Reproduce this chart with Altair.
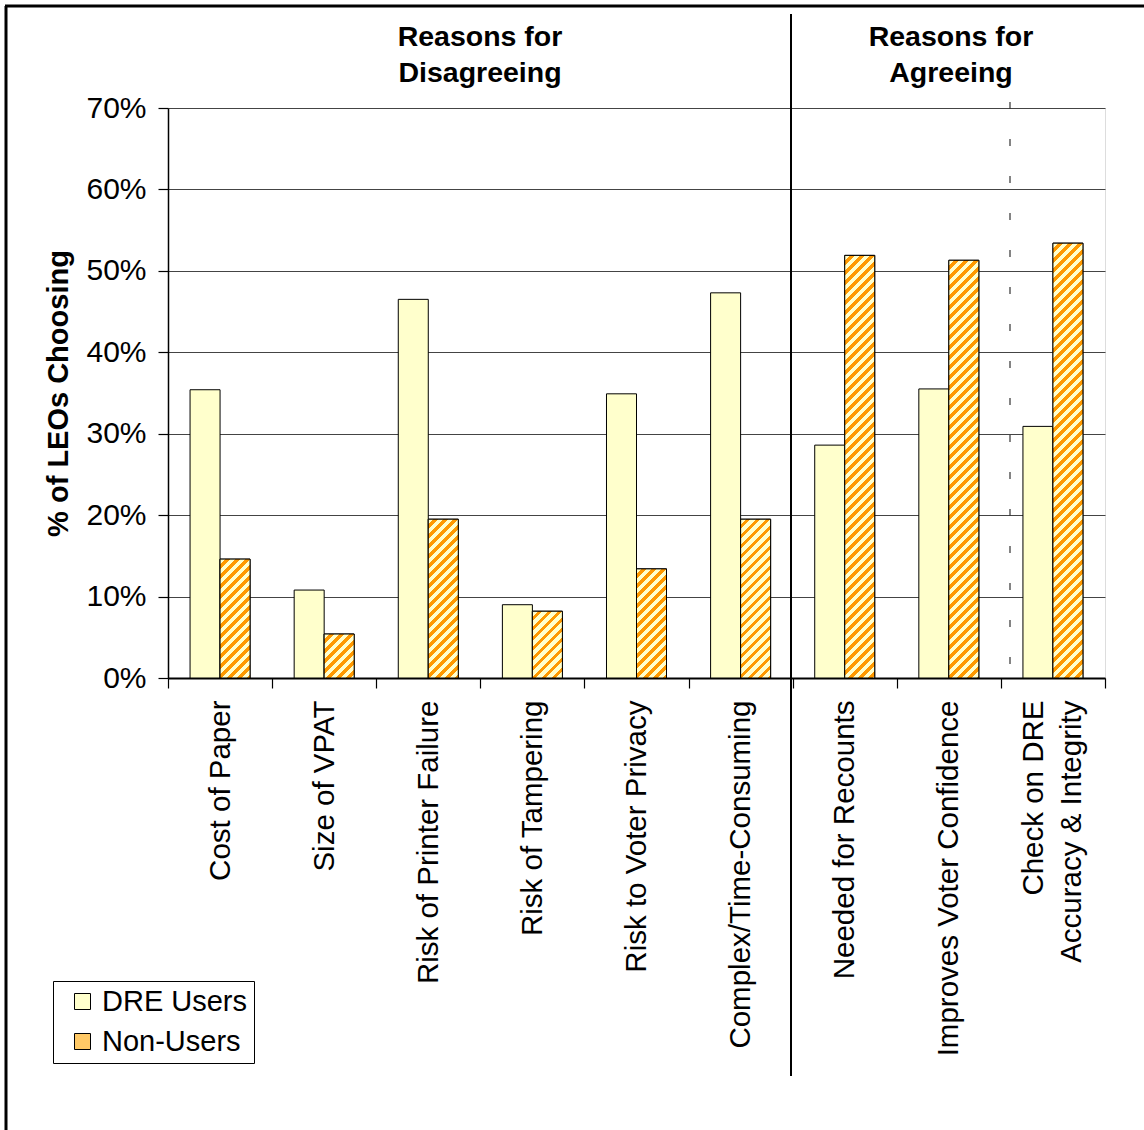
import altair as alt
import pandas as pd

# ---------------- data ----------------
categories = [
    "Cost of Paper", "Size of VPAT", "Risk of Printer Failure", "Risk of Tampering",
    "Risk to Voter Privacy", "Complex/Time-Consuming", "Needed for Recounts",
    "Improves Voter Confidence", "Check on DRE Accuracy & Integrity",
]
series = ["DRE Users", "Non-Users"]
dre_users = [35.4, 10.8, 46.5, 9.0, 34.9, 47.3, 28.6, 35.5, 30.9]
non_users = [14.6, 5.4, 19.5, 8.2, 13.4, 19.5, 51.9, 51.3, 53.4]
y_ticks = [0, 10, 20, 30, 40, 50, 60, 70]
section_titles = [["Reasons for", "Disagreeing"], ["Reasons for", "Agreeing"]]

df = pd.DataFrame({
    "category": categories * 2,
    "series": [series[0]] * len(categories) + [series[1]] * len(categories),
    "value": dre_users + non_users,
})

# ---------------- layout / style ----------------
W, H = 937, 570
PAD = {"left": 168, "top": 108, "right": 39, "bottom": 452}
YMAX = 70
FONT = "Liberation Sans"
YELLOW = "#FFFFCC"
ORANGE = "#FF9900"
BAR_W = W / len(categories) / 3.47  # bar width produced by the xOffset padding


def stripes(h, w=BAR_W, period=10.0, frac=0.55):
    total = w + h
    k = total / (w * w + h * h)
    stops = []
    i = 0
    while i * period < total:
        a = i * period / total
        b = min((i * period + period * frac) / total, 1.0)
        c = min((i + 1) * period / total, 1.0)
        stops += [(a, YELLOW), (b, YELLOW), (b, ORANGE), (c, ORANGE)]
        i += 1
    return alt.LinearGradient(
        gradient="linear",
        stops=[alt.GradientStop(offset=o, color=col) for o, col in stops],
        x1=0, y1=0, x2=k * w, y2=k * h,
    )


two_line = categories[-1]
label_expr = (f"datum.label == '{two_line}' ? "
              "['Check on DRE', 'Accuracy & Integrity'] : datum.label")

x_enc = alt.X(
    "category:N", sort=categories, title=None,
    scale=alt.Scale(domain=categories, paddingInner=0, paddingOuter=0),
    axis=alt.Axis(
        labelAngle=-90, labelFontSize=29.5, labelFont=FONT, labelColor="black",
        labelPadding=12, labelLimit=800, labelLineHeight=38, labelExpr=label_expr,
        labelOffset={"condition": {"test": f"datum.value == '{two_line}'", "value": -19},
                     "value": 0},
        tickBand="extent", tickSize=10, tickColor="black", tickWidth=1.2,
        domainColor="black", domainWidth=2, grid=False,
    ),
)
xo_enc = alt.XOffset(
    "series:N", scale=alt.Scale(domain=series, paddingInner=0, paddingOuter=0.735)
)
y_enc = alt.Y(
    "value:Q",
    scale=alt.Scale(domain=[0, YMAX], nice=False, zero=True),
    axis=alt.Axis(
        values=y_ticks, labelExpr="datum.value + '%'", labelFontSize=30,
        labelFont=FONT, labelColor="black", labelPadding=12,
        tickSize=10, tickColor="black", tickWidth=1.2,
        domainColor="black", domainWidth=1.5,
        grid=True, gridColor="#444444", gridWidth=1.2,
        title="% of LEOs Choosing", titleFont=FONT, titleFontSize=29,
        titleFontWeight="bold", titleColor="black", titleX=-110, titleY=H / 2,
        titleBaseline="middle", titleAngle=270,
    ),
)

base_bars = alt.Chart(df).mark_bar(stroke="black", strokeWidth=1).encode(
    x=x_enc, xOffset=xo_enc, y=y_enc,
    color=alt.Color(
        "series:N", title=None,
        scale=alt.Scale(domain=series, range=[YELLOW, "#FFC966"]),
        legend=alt.Legend(
            orient="none", legendX=-115, legendY=873,
            strokeColor="black", fillColor="white", padding=6,
            symbolType="square", symbolSize=256, symbolStrokeColor="black",
            symbolStrokeWidth=1, symbolOffset=9,
            labelFontSize=29, labelFont=FONT, labelColor="black",
            labelOffset=5, rowPadding=10,
        ),
    ),
)

stripe_layers = []
for cat, val in zip(categories, non_users):
    h = val / YMAX * H
    stripe_layers.append(
        alt.Chart(df)
        .transform_filter((alt.datum.series == series[1]) & (alt.datum.category == cat))
        .mark_bar(fill=stripes(h), stroke="black", strokeWidth=1)
        .encode(x=x_enc, xOffset=xo_enc, y=y_enc)
    )

one = pd.DataFrame({"a": [0]})

separator = alt.Chart(one).mark_rule(color="black", strokeWidth=2).encode(
    x=alt.value(623), y=alt.value(-94), y2=alt.value(968)
)
dashed = alt.Chart(one).mark_rule(color="#333333", strokeWidth=1.2, strokeDash=[7, 30]).encode(
    x=alt.value(842), y=alt.value(-6), y2=alt.value(565)
)
border_left = alt.Chart(one).mark_rule(color="black", strokeWidth=3).encode(
    x=alt.value(-162), y=alt.value(-102), y2=alt.value(1030)
)
border_top = alt.Chart(one).mark_rule(color="black", strokeWidth=3).encode(
    y=alt.value(-102), x=alt.value(-163), x2=alt.value(990)
)

title_left = alt.Chart(one).mark_text(
    text=section_titles[0], font=FONT, fontSize=28.5, fontWeight="bold", color="black",
    align="center", baseline="alphabetic", lineHeight=36,
).encode(x=alt.value(312), y=alt.value(-62))
title_right = alt.Chart(one).mark_text(
    text=section_titles[1], font=FONT, fontSize=28.5, fontWeight="bold", color="black",
    align="center", baseline="alphabetic", lineHeight=36,
).encode(x=alt.value(783), y=alt.value(-62))

chart = alt.layer(
    dashed, base_bars, *stripe_layers, separator, border_left, border_top,
    title_left, title_right,
).properties(
    width=W, height=H,
    autosize=alt.AutoSizeParams(type="none"),
    padding=PAD,
    background="white",
).configure_view(
    stroke="#222222", strokeWidth=1.5
).configure(font=FONT)

chart.save("out.html", embed_options={"renderer": "svg", "actions": False})
